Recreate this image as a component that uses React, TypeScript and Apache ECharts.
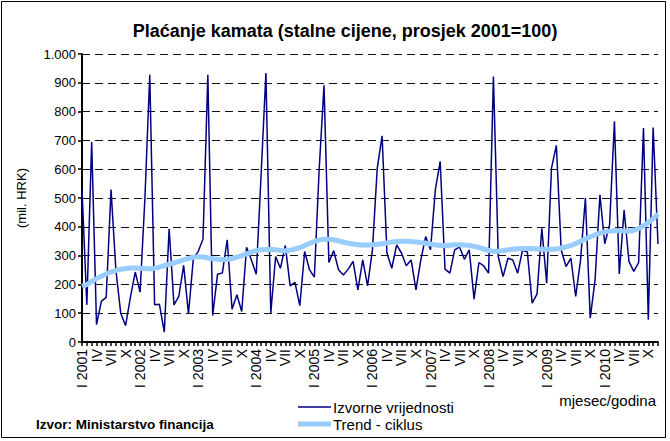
import React, { useEffect, useRef } from "react";
import * as echarts from "echarts";

const months = ["I", "II", "III", "IV", "V", "VI", "VII", "VIII", "IX", "X", "XI", "XII"];
const years = [2001, 2002, 2003, 2004, 2005, 2006, 2007, 2008, 2009, 2010];

const categories: string[] = [];
years.forEach((y) => months.forEach((m) => categories.push(m === "I" ? `I ${y}` : m)));

// Izvorne vrijednosti (mil. HRK), monthly 2001-2010
const izvorne = [
  530, 129, 694, 60, 141, 155, 529, 250, 100, 57, 155, 243,
  173, 500, 928, 129, 131, 34, 393, 129, 158, 266, 98, 290,
  314, 358, 928, 92, 235, 240, 355, 114, 164, 106, 329, 285,
  235, 580, 934, 100, 297, 256, 335, 195, 207, 126, 314, 251,
  225, 600, 891, 276, 317, 251, 233, 253, 280, 181, 285, 195,
  320, 604, 716, 309, 256, 337, 309, 265, 285, 181, 285, 366,
  320, 529, 627, 253, 239, 320, 330, 287, 320, 149, 276, 264,
  239, 922, 297, 227, 291, 285, 239, 318, 313, 135, 166, 395,
  204, 604, 683, 320, 262, 291, 158, 285, 500, 83, 216, 511,
  341, 407, 766, 236, 458, 280, 245, 276, 743, 77, 745, 340,
];

// Trend - ciklus
const trend = [
  193, 200, 210, 220, 228, 236, 243, 248, 252, 255, 257, 257,
  256, 255, 254, 256, 260, 265, 270, 275, 280, 285, 290, 294,
  296, 295, 292, 289, 287, 286, 287, 290, 295, 300, 306, 312,
  317, 320, 321, 321, 320, 318, 317, 319, 323, 328, 335, 342,
  349, 354, 357, 357, 355, 351, 347, 343, 340, 338, 337, 337,
  338, 339, 341, 344, 347, 349, 350, 350, 349, 347, 345, 343,
  340, 337, 335, 335, 336, 338, 338, 337, 335, 332, 328, 323,
  318, 315, 315, 317, 320, 322, 324, 325, 325, 324, 323, 322,
  322, 322, 323, 326, 330, 335, 342, 350, 358, 365, 372, 378,
  382, 385, 386, 386, 385, 385, 388, 394, 403, 415, 428, 445,
];

const seriesNames = ["Izvorne vrijednosti", "Trend - ciklus"];
const FONT = "'Liberation Sans', Arial, sans-serif";

export default function App() {
  const ref = useRef<HTMLDivElement>(null);
  useEffect(() => {
    document.body.style.margin = "0";
    if (!ref.current) return;
    const chart = echarts.init(ref.current, undefined, { renderer: "svg" });
    chart.setOption({
      animation: false,
      backgroundColor: "#fff",
      textStyle: { fontFamily: FONT },
      grid: { left: 82, right: 12, top: 54, bottom: 99, containLabel: false },
      xAxis: {
        type: "category",
        data: categories,
        boundaryGap: false,
        axisLine: { show: true, lineStyle: { color: "#000", width: 2 } },
        axisTick: { show: true, interval: 0, length: 4, lineStyle: { color: "#000", width: 1.5 } },
        axisLabel: {
          interval: 2,
          rotate: 90,
          fontSize: 14,
          color: "#000",
          margin: 7,
          fontFamily: FONT,
        },
        splitLine: { show: false },
      },
      yAxis: {
        type: "value",
        min: 0,
        max: 1000,
        interval: 100,
        name: "(mil. HRK)",
        nameLocation: "middle",
        nameRotate: 90,
        nameGap: 54,
        nameTextStyle: { fontSize: 13, color: "#000", fontFamily: FONT },
        axisLine: { show: true, lineStyle: { color: "#000", width: 2 } },
        axisTick: { show: true, length: 4, lineStyle: { color: "#000", width: 1.5 } },
        axisLabel: {
          fontSize: 13,
          color: "#000",
          margin: 6,
          fontFamily: FONT,
          formatter: (v: number) => (v === 1000 ? "1.000" : String(v)),
        },
        splitLine: { show: true, lineStyle: { color: "#111", width: 1, type: [8, 5] } },
      },
      series: [
        {
          name: seriesNames[0],
          type: "line",
          data: izvorne,
          symbol: "none",
          lineStyle: { color: "#000080", width: 1.5 },
          itemStyle: { color: "#000080" },
          z: 2,
        },
        {
          name: seriesNames[1],
          type: "line",
          data: trend,
          symbol: "none",
          smooth: 0.3,
          lineStyle: { color: "#99ccff", width: 5 },
          itemStyle: { color: "#99ccff" },
          z: 3,
        },
      ],
      graphic: [
        {
          type: "rect",
          shape: { x: 1.5, y: 1.5, width: 664, height: 436 },
          style: { fill: "none", stroke: "#000", lineWidth: 1 },
          silent: true,
        },
        {
          type: "text",
          x: 345,
          y: 31,
          style: {
            text: "Plaćanje kamata (stalne cijene, prosjek 2001=100)",
            fontSize: 18,
            fontWeight: "bold",
            fontFamily: FONT,
            fill: "#000",
            align: "center",
            verticalAlign: "middle",
          },
        },
        {
          type: "text",
          x: 656,
          y: 400,
          style: {
            text: "mjesec/godina",
            fontSize: 15,
            fontFamily: FONT,
            fill: "#000",
            align: "right",
            verticalAlign: "middle",
          },
        },
        {
          type: "text",
          x: 36,
          y: 424,
          style: {
            text: "Izvor: Ministarstvo financija",
            fontSize: 13.5,
            fontWeight: "bold",
            fontFamily: FONT,
            fill: "#000",
            align: "left",
            verticalAlign: "middle",
          },
        },
        {
          type: "line",
          shape: { x1: 298, y1: 407, x2: 331, y2: 407 },
          style: { stroke: "#000080", lineWidth: 1.5 },
        },
        {
          type: "text",
          x: 333,
          y: 407,
          style: {
            text: seriesNames[0],
            fontSize: 15,
            fontFamily: FONT,
            fill: "#000",
            align: "left",
            verticalAlign: "middle",
          },
        },
        {
          type: "line",
          shape: { x1: 298, y1: 424, x2: 331, y2: 424 },
          style: { stroke: "#99ccff", lineWidth: 5 },
        },
        {
          type: "text",
          x: 333,
          y: 424,
          style: {
            text: seriesNames[1],
            fontSize: 15,
            fontFamily: FONT,
            fill: "#000",
            align: "left",
            verticalAlign: "middle",
          },
        },
      ],
    });
    return () => chart.dispose();
  }, []);
  return <div ref={ref} style={{ width: 670, height: 441 }} />;
}
